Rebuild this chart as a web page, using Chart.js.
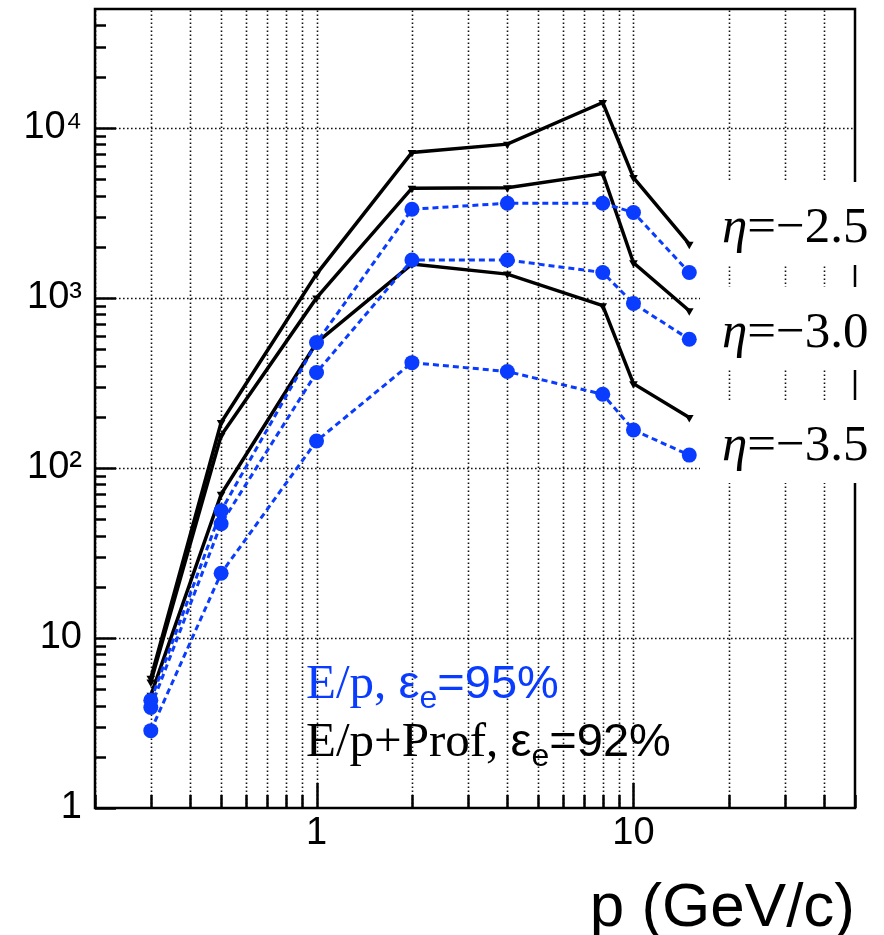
<!DOCTYPE html>
<html><head><meta charset="utf-8">
<script src="https://cdn.jsdelivr.net/npm/chart.js@4"></script>
<style>html,body{margin:0;padding:0;background:#fff;}canvas{display:block;}</style>
</head><body>
<canvas id="c" width="884" height="935"></canvas>
<script>
// ---- data ----
const momenta = [0.3, 0.5, 1, 2, 4, 8, 10, 15];          // p (GeV/c)
// E/p + profile cut (black, solid)
const profEta25 = [5.8, 185, 1380, 7160, 8020, 14100, 5100, 2070];
const profEta30 = [5.5, 155, 1000, 4420, 4440, 5380, 1610, 840];
const profEta35 = [4.6, 70, 545, 1580, 1380, 900, 313, 198];
// E/p only (blue, dashed)
const epEta25 = [4.3, 56, 546, 3320, 3600, 3600, 3180, 1410];
const epEta30 = [3.9, 47, 364, 1670, 1670, 1410, 926, 571];
const epEta35 = [2.85, 24, 144, 416, 369, 271, 167, 119];

const xTickValues = [0.2,0.3,0.4,0.5,0.6,0.7,0.8,0.9,1,2,3,4,5,6,7,8,9,10,20,30,40,50];
const xTickLabels = {1: '1', 10: '10'};
const yDecades = [1, 10, 100, 1000, 10000];
const yTickLabels = {1: '1', 10: '10', 100: '10\u00B2', 1000: '10\u00B3', 10000: '10\u2074'};
const etaLabels = ['\u2212' + '2.5', '\u2212' + '3.0', '\u2212' + '3.5'];
const legendLines = [
  {head: 'E/p, ', eff: '=95%', color: '#0a3cff'},
  {head: 'E/p+Prof, ', eff: '=92%', color: '#000000'}
];

const X_MIN = 0.2, X_MAX = 50, Y_MIN = 1, Y_MAX = 5e4;
const yTickValues = [];
yDecades.forEach(d => { for (let m = 1; m <= 9; m++) { if (m * d < Y_MAX) yTickValues.push(m * d); } });

const BLUE = '#0a3cff';
const pts = arr => arr.map((v, i) => ({x: momenta[i], y: v}));
const isDecade = v => Math.abs(Math.log10(v) - Math.round(Math.log10(v))) < 1e-9;

function blueSet(arr) {
  return {data: pts(arr), borderColor: BLUE, backgroundColor: BLUE, borderWidth: 3,
    borderDash: [6, 4], pointRadius: 7.5, pointStyle: 'circle', pointBorderWidth: 0,
    pointBackgroundColor: BLUE, tension: 0};
}
function blackSet(arr) {
  return {data: pts(arr), borderColor: '#000', backgroundColor: '#000', borderWidth: 3.5,
    pointRadius: 5, pointStyle: 'triangle', pointRotation: 180, pointBorderWidth: 0,
    pointBackgroundColor: '#000', tension: 0};
}

function drawRich(ctx, x, y, parts, color) {
  ctx.fillStyle = color;
  ctx.textBaseline = 'alphabetic';
  ctx.textAlign = 'left';
  parts.forEach(p => {
    ctx.font = p.f;
    ctx.fillText(p.t, x, y + (p.dy || 0));
    x += ctx.measureText(p.t).width + (p.gap || 0);
  });
}

const rootPlugin = {
  id: 'rootStyle',
  beforeDatasetsDraw(chart) {
    const {ctx, chartArea: a, scales: {x, y}} = chart;
    ctx.save();
    ctx.beginPath(); ctx.rect(a.left, a.top, a.right - a.left, a.bottom - a.top); ctx.clip();
    ctx.strokeStyle = '#111'; ctx.lineWidth = 1.6; ctx.setLineDash([1.6, 2.4]);
    x.ticks.forEach(t => {
      const px = Math.round(x.getPixelForValue(t.value)) + 0.5;
      ctx.beginPath(); ctx.moveTo(px, a.bottom); ctx.lineTo(px, a.top); ctx.stroke();
    });
    y.ticks.forEach(t => {
      if (!isDecade(t.value)) return;
      const py = Math.round(y.getPixelForValue(t.value)) + 0.5;
      ctx.beginPath(); ctx.moveTo(a.left, py); ctx.lineTo(a.right, py); ctx.stroke();
    });
    ctx.restore();
  },
  afterDatasetsDraw(chart) {
    const {ctx, chartArea: a, scales: {x, y}} = chart;
    ctx.save();
    ctx.strokeStyle = '#000'; ctx.lineWidth = 2.5; ctx.setLineDash([]);
    x.ticks.forEach(t => {
      const px = Math.round(x.getPixelForValue(t.value)) + 0.5;
      const len = isDecade(t.value) ? 25 : 13;
      ctx.beginPath(); ctx.moveTo(px, a.bottom); ctx.lineTo(px, a.bottom - len); ctx.stroke();
    });
    y.ticks.forEach(t => {
      const py = Math.round(y.getPixelForValue(t.value)) + 0.5;
      const len = isDecade(t.value) ? 21 : 11;
      ctx.beginPath(); ctx.moveTo(a.left, py); ctx.lineTo(a.left + len, py); ctx.stroke();
    });
    ctx.lineWidth = 2.5;
    ctx.strokeRect(a.left, a.top, a.right - a.left, a.bottom - a.top);
    ctx.restore();
  },
  afterDraw(chart) {
    const {ctx} = chart;
    ctx.save();
    const base = [242, 347, 460];
    etaLabels.forEach((lab, i) => {
      ctx.fillStyle = '#fff';
      ctx.fillRect(700, base[i] - 60, 184, 83);
      drawRich(ctx, 722, base[i], [
        {t: '\u03B7', f: 'italic 51px "Liberation Serif"'},
        {t: '=' + lab, f: '51px "Liberation Serif"'}
      ], '#000');
    });
    const lb = [698, 756];
    legendLines.forEach((l, i) => {
      drawRich(ctx, 306, lb[i], [
        {t: l.head, f: '49px "Liberation Serif"'},
        {t: '\u03B5', f: '47px "Liberation Sans"'},
        {t: 'e', f: '32px "Liberation Sans"', dy: 10},
        {t: l.eff, f: '47px "Liberation Sans"'}
      ], l.color);
    });
    ctx.restore();
  }
};

const tickFont = {family: '"Liberation Sans", Arial, sans-serif', size: 38};
const zeroPad = s => { s.paddingTop = 0; s.paddingBottom = 0; s.paddingLeft = 0; s.paddingRight = 0; };

new Chart(document.getElementById('c').getContext('2d'), {
  type: 'line',
  data: {datasets: [blueSet(epEta25), blueSet(epEta30), blueSet(epEta35),
                    blackSet(profEta25), blackSet(profEta30), blackSet(profEta35)]},
  options: {
    responsive: false, animation: false, devicePixelRatio: 1,
    layout: {padding: {top: 9, right: 29, left: 0, bottom: 0}},
    plugins: {legend: {display: false}, tooltip: {enabled: false}},
    scales: {
      x: {
        type: 'logarithmic', min: X_MIN, max: X_MAX,
        afterBuildTicks: s => { s.ticks = xTickValues.map(v => ({value: v})); },
        afterFit: s => { s.height = 127; zeroPad(s); },
        grid: {display: false, drawTicks: false}, border: {display: false},
        ticks: {autoSkip: false, maxRotation: 0, padding: 3, color: '#000', font: tickFont,
                callback: v => xTickLabels[v] || ''},
        title: {display: true, text: 'p (GeV/c)', align: 'end', color: '#000',
                font: {family: '"Liberation Sans", Arial, sans-serif', size: 62},
                padding: {top: 0, bottom: -11}}
      },
      y: {
        type: 'logarithmic', min: Y_MIN, max: Y_MAX,
        afterBuildTicks: s => { s.ticks = yTickValues.map(v => ({value: v})); },
        afterFit: s => { s.width = 95; zeroPad(s); },
        grid: {display: false, drawTicks: false}, border: {display: false},
        ticks: {autoSkip: false, padding: 13, color: '#000', font: tickFont,
                callback: v => yTickLabels[v] || ''}
      }
    }
  },
  plugins: [rootPlugin]
});
</script>
</body></html>
